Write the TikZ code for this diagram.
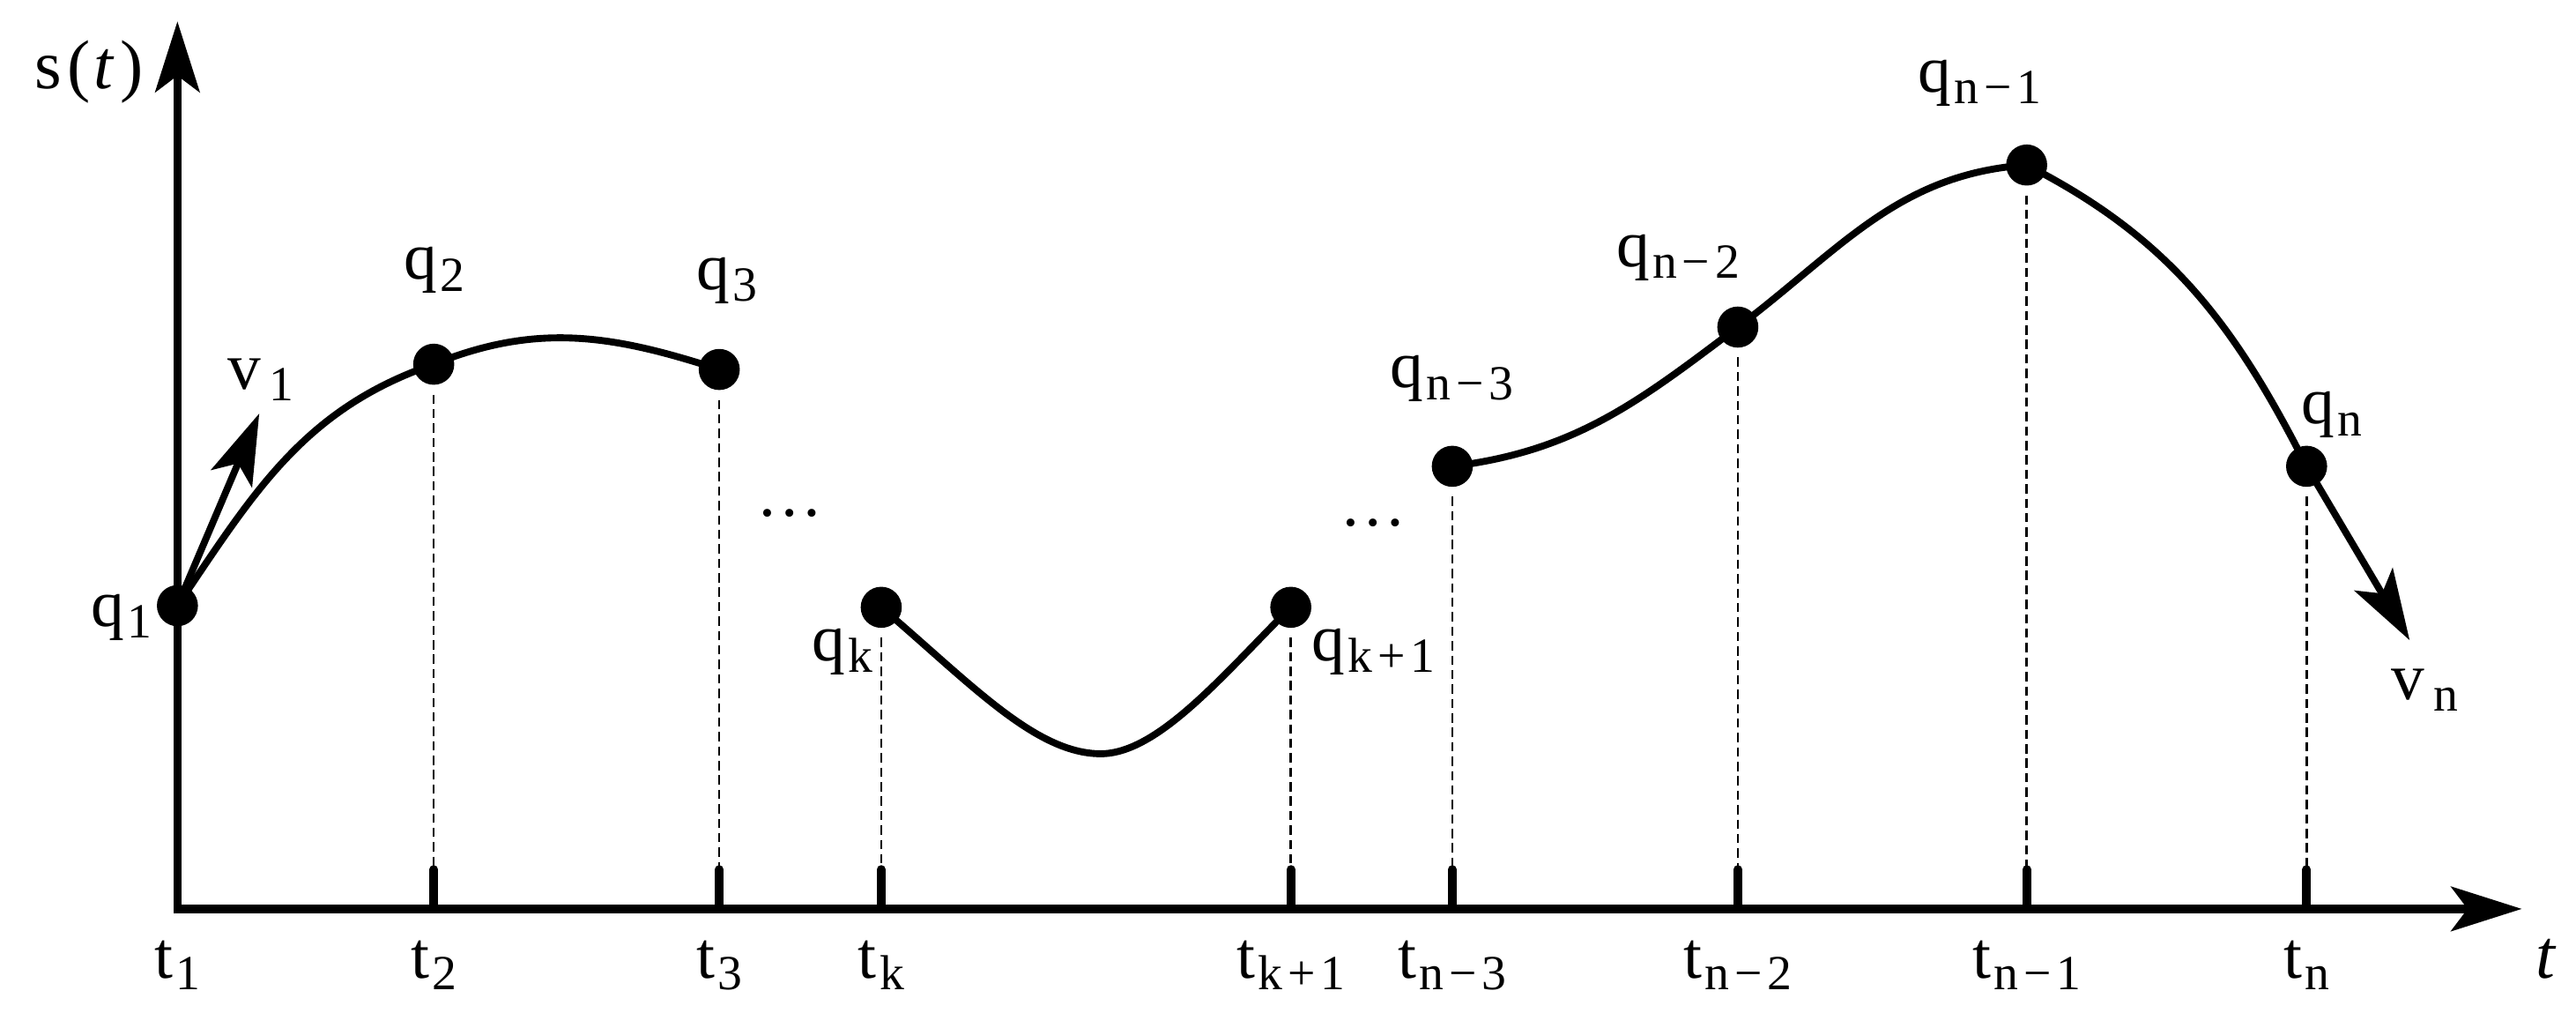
\documentclass[tikz,border=0pt]{standalone}
\usepackage{fontspec}
\setmainfont{Liberation Serif}
\usetikzlibrary{arrows.meta}

\newcommand{\lsub}[3][0.5pt]{#2\kern#1\raisebox{-2pt}{\fontsize{8.5}{9}\selectfont #3}}
\newcommand{\mns}{\kern0.9pt−\kern0.9pt}
\newcommand{\pls}{\kern0.9pt+\kern0.9pt}

\begin{document}
\begin{tikzpicture}[
        every node/.style={font=\fontsize{11.5}{13}\selectfont, inner sep=0pt},
        axis/.style={line width=1.4pt, {Stealth[length=4.3mm, width=2.7mm, inset=1mm]}-{Stealth[length=4.3mm, width=2.7mm, inset=1mm]}},
        curve/.style={line width=1.2pt},
        vec/.style={line width=1.2pt, -{Stealth[length=4.3mm, width=2.7mm, inset=1mm]}},
        tick/.style={line width=1.5pt, line cap=round},
        guide/.style={line width=0.4pt, dash pattern=on 1.6pt off 0.9pt, shorten <=1.5pt},
        knot/.style={circle, fill=black, minimum size=2.5mm, inner sep=0pt},
        tlabel/.style={anchor=base}
        ]

        \useasboundingbox (-1.08,-0.72) rectangle (14.60,5.53);

        % Axes
        \coordinate (origin) at (0,0);
        \coordinate (xend) at (14.27,0);
        \coordinate (yend) at (0,5.40);
        \draw[axis] (yend) -- (origin) -- (xend);
        \node[anchor=base east, font=\fontsize{12}{14}\selectfont] (sy) at (-0.2,4.99) {s\kern1pt(\kern0.6pt\textit{t}\kern1pt)};
        \node[anchor=base, font=\fontsize{12}{14}\selectfont] (tx) at (14.42,-0.42) {\textit{t}};

        % Knots of the trajectory
        \node[knot] (q1) at (0,1.845) {};
        \node[knot] (q2) at (1.56,3.314) {};
        \node[knot] (q3) at (3.298,3.282) {};
        \node[knot] (qk) at (4.284,1.835) {};
        \node[knot] (qk1) at (6.777,1.835) {};
        \node[knot] (qn3) at (7.76,2.693) {};
        \node[knot] (qn2) at (9.498,3.54) {};
        \node[knot] (qn1) at (11.256,4.526) {};
        \node[knot] (qn) at (12.96,2.693) {};

        % Knot labels
        \node[anchor=base east] (lq1) at (-0.15,1.72) {\lsub{q}{1}};
        \node[anchor=base] (lq2) at (1.565,3.83) {\lsub{q}{2}};
        \node[anchor=base] (lq3) at (3.346,3.77) {\lsub{q}{3}};
        \node[anchor=base east] (lqk) at (4.24,1.51) {\lsub{q}{k}};
        \node[anchor=base west] (lqk1) at (6.90,1.51) {\lsub{q}{k\pls{}1}};
        \node[anchor=base] (lqn3) at (7.758,3.17) {\lsub{q}{n\mns{}3}};
        \node[anchor=base] (lqn2) at (9.134,3.91) {\lsub{q}{n\mns{}2}};
        \node[anchor=base] (lqn1) at (10.97,4.97) {\lsub{q}{n\mns{}1}};
        \node[anchor=base west] (lqn) at (12.92,2.95) {\lsub{q}{n}};

        % Dots
        \node[anchor=base] (dots1) at (3.73,2.39) {…};
        \node[anchor=base] (dots2) at (7.28,2.33) {…};

        % Trajectory pieces
        \draw[curve] (q1.center) to[out=56, in=199] (q2.center) to[out=22, in=162] (q3.center);
        \draw[curve] (qk.center) .. controls (4.82,1.38) and (5.22,0.944) .. (5.62,0.944) .. controls (5.97,0.944) and (6.37,1.43) .. (qk1.center);
        \draw[curve] (qn3.center) to[out=7, in=217] (qn2.center) to[out=37, in=184] (qn1.center) to[out=-27, in=117] (qn.center);

        % Boundary velocities
        \coordinate (v1tip) at (0.498,3.014);
        \coordinate (vntip) at (13.587,1.635);
        \draw[vec] (q1.center) -- (v1tip);
        \draw[vec] (qn.center) -- (vntip);
        \node[anchor=base] (lv1) at (0.508,3.16) {\lsub[1.5pt]{v}{1}};
        \node[anchor=base west] (lvn) at (13.47,1.276) {\lsub[1.5pt]{v}{n}};

        % Ticks on the time axis
        \coordinate (m2) at (1.56,0.24);
        \coordinate (m3) at (3.298,0.24);
        \coordinate (mk) at (4.284,0.24);
        \coordinate (mk1) at (6.777,0.24);
        \coordinate (mn3) at (7.76,0.24);
        \coordinate (mn2) at (9.498,0.24);
        \coordinate (mn1) at (11.256,0.24);
        \coordinate (mn) at (12.96,0.24);
        \draw[tick] (m2) -- (m2 |- origin);
        \draw[tick] (m3) -- (m3 |- origin);
        \draw[tick] (mk) -- (mk |- origin);
        \draw[tick] (mk1) -- (mk1 |- origin);
        \draw[tick] (mn3) -- (mn3 |- origin);
        \draw[tick] (mn2) -- (mn2 |- origin);
        \draw[tick] (mn1) -- (mn1 |- origin);
        \draw[tick] (mn) -- (mn |- origin);

        % Guide lines down to the axis
        \draw[guide] (q2) -- (m2);
        \draw[guide] (q3) -- (m3);
        \draw[guide] (qk) -- (mk);
        \draw[guide] (qk1) -- (mk1);
        \draw[guide] (qn3) -- (mn3);
        \draw[guide] (qn2) -- (mn2);
        \draw[guide] (qn1) -- (mn1);
        \draw[guide] (qn) -- (mn);

        % Time labels
        \node[tlabel] (t1) at (0,-0.42) {\lsub{t}{1}};
        \node[tlabel] (t2) at (1.56,-0.42) {\lsub{t}{2}};
        \node[tlabel] (t3) at (3.298,-0.42) {\lsub{t}{3}};
        \node[tlabel] (tk) at (4.284,-0.42) {\lsub{t}{k}};
        \node[tlabel] (tk1) at (6.777,-0.42) {\lsub{t}{k\pls{}1}};
        \node[tlabel] (tn3) at (7.76,-0.42) {\lsub{t}{n\mns{}3}};
        \node[tlabel] (tn2) at (9.498,-0.42) {\lsub{t}{n\mns{}2}};
        \node[tlabel] (tn1) at (11.256,-0.42) {\lsub{t}{n\mns{}1}};
        \node[tlabel] (tn) at (12.96,-0.42) {\lsub{t}{n}};

    \end{tikzpicture}
\end{document}
